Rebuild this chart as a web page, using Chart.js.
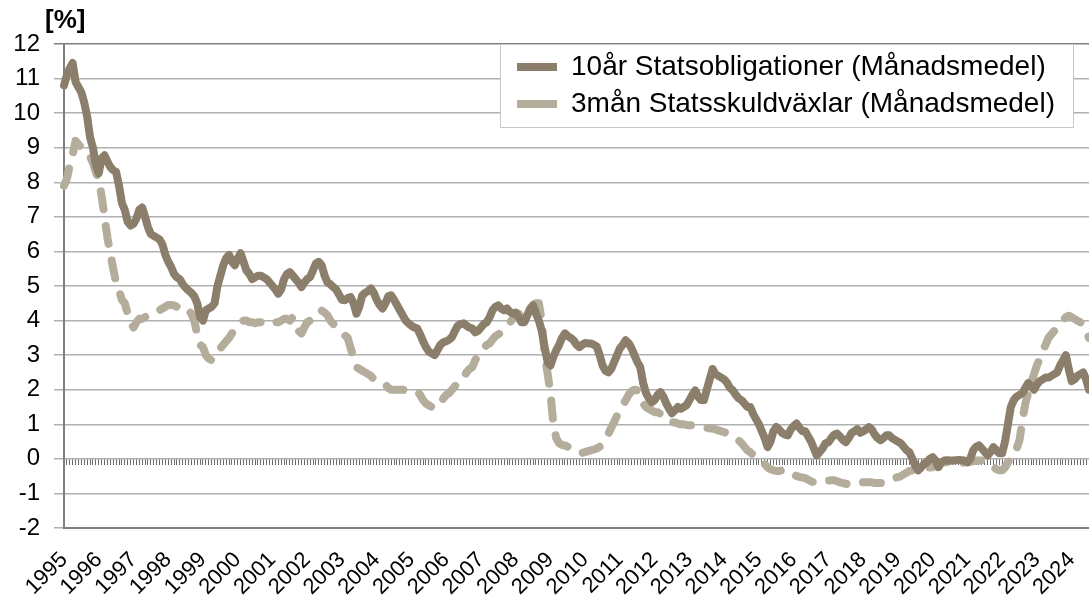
<!DOCTYPE html>
<html>
<head>
<meta charset="utf-8">
<script src="https://cdn.jsdelivr.net/npm/chart.js@4.4.1/dist/chart.umd.min.js"></script>
<style>
  html, body { margin: 0; padding: 0; background: #fff; overflow: hidden; }
  #wrap { position: relative; width: 1089px; height: 598px; }
</style>
</head>
<body>
<div id="wrap"><canvas id="rates"></canvas></div>
<script>
// Category axis: one year label per January, monthly points
const years = ['1995','1996','1997','1998','1999','2000','2001','2002','2003','2004',
               '2005','2006','2007','2008','2009','2010','2011','2012','2013','2014',
               '2015','2016','2017','2018','2019','2020','2021','2022','2023','2024'];
const seriesNames = ['10år Statsobligationer (Månadsmedel)', '3mån Statsskuldväxlar (Månadsmedel)'];
const yMin = -2, yMax = 12, yStep = 1;

// 10-year government bonds, monthly average (Jan 1995 - Jul 2024)
const bond10y = [
  10.8, 11.1, 11.3, 11.45, 10.9, 10.75, 10.6, 10.3, 9.9, 9.3, 9.0, 8.5,
  8.26, 8.7, 8.78, 8.6, 8.44, 8.35, 8.3, 7.9, 7.4, 7.2, 6.85, 6.75,
  6.8, 6.95, 7.2, 7.27, 7.0, 6.7, 6.5, 6.45, 6.4, 6.35, 6.2, 5.9,
  5.7, 5.55, 5.35, 5.25, 5.2, 5.05, 4.95, 4.87, 4.8, 4.7, 4.5, 4.1,
  4.0, 4.3, 4.35, 4.4, 4.5, 5.0, 5.3, 5.6, 5.8, 5.9, 5.7, 5.6,
  5.8, 5.95, 5.7, 5.45, 5.35, 5.2, 5.25, 5.3, 5.3, 5.25, 5.2, 5.1,
  5.0, 4.9, 4.78, 4.9, 5.2, 5.35, 5.4, 5.3, 5.2, 5.1, 4.97, 5.1,
  5.2, 5.26, 5.45, 5.65, 5.7, 5.6, 5.3, 5.1, 5.05, 4.97, 4.9, 4.75,
  4.6, 4.59, 4.65, 4.68, 4.5, 4.2, 4.4, 4.73, 4.8, 4.85, 4.93, 4.8,
  4.6, 4.45, 4.35, 4.5, 4.7, 4.73, 4.6, 4.45, 4.3, 4.15, 4.0, 3.92,
  3.85, 3.8, 3.77, 3.6, 3.4, 3.23, 3.1, 3.05, 3.0, 3.15, 3.3, 3.37,
  3.4, 3.45, 3.52, 3.7, 3.85, 3.9, 3.92, 3.85, 3.8, 3.77, 3.66, 3.7,
  3.8, 3.9, 3.95, 4.1, 4.3, 4.4, 4.44, 4.35, 4.3, 4.35, 4.25, 4.2,
  4.23, 4.1, 3.95, 3.95, 4.15, 4.35, 4.44, 4.2, 4.0, 3.7, 3.23, 2.8,
  2.7, 2.95, 3.14, 3.3, 3.5, 3.63, 3.55, 3.5, 3.43, 3.3, 3.23, 3.3,
  3.35, 3.34, 3.34, 3.3, 3.25, 3.0, 2.7, 2.55, 2.5, 2.6, 2.8, 3.0,
  3.2, 3.3, 3.43, 3.35, 3.2, 3.0, 2.8, 2.66, 2.2, 1.9, 1.75, 1.64,
  1.7, 1.85, 1.93, 1.8, 1.6, 1.45, 1.32, 1.4, 1.5, 1.45, 1.5, 1.55,
  1.7, 1.85, 1.98, 1.8, 1.7, 1.7, 2.0, 2.3, 2.6, 2.45, 2.4, 2.35,
  2.3, 2.2, 2.05, 1.98, 1.85, 1.75, 1.7, 1.6, 1.5, 1.5, 1.3, 1.15,
  1.0, 0.8, 0.6, 0.34, 0.5, 0.8, 0.92, 0.85, 0.75, 0.7, 0.68, 0.85,
  0.95, 1.02, 0.9, 0.8, 0.8, 0.65, 0.5, 0.3, 0.1, 0.2, 0.3, 0.45,
  0.48, 0.6, 0.7, 0.73, 0.65, 0.55, 0.48, 0.6, 0.75, 0.8, 0.86, 0.75,
  0.8, 0.85, 0.92, 0.85, 0.7, 0.6, 0.54, 0.6, 0.68, 0.68, 0.6, 0.55,
  0.5, 0.45, 0.35, 0.25, 0.19, 0.0, -0.2, -0.33, -0.25, -0.15, -0.1, 0.0,
  0.05, -0.05, -0.24, -0.1, -0.05, -0.04, -0.05, -0.05, -0.04, -0.03, -0.04, -0.05,
  -0.1, 0.0, 0.25, 0.35, 0.39, 0.3, 0.2, 0.1, 0.2, 0.34, 0.25, 0.16,
  0.16, 0.5, 1.0, 1.5, 1.7, 1.8, 1.85, 1.9, 2.05, 2.19, 2.1, 2.0,
  2.15, 2.25, 2.3, 2.35, 2.35, 2.4, 2.45, 2.5, 2.7, 2.85, 3.0, 2.6,
  2.25, 2.3, 2.4, 2.45, 2.5, 2.3, 2.0
];

// 3-month treasury bills, monthly average
const bill3m = [
  7.9, 8.1, 8.5, 8.8, 9.2, 9.1, 9.0, 8.95, 8.9, 8.75, 8.55, 8.3,
  8.05, 7.6, 7.0, 6.4, 5.94, 5.5, 5.1, 4.87, 4.6, 4.5, 4.2, 3.92,
  3.8, 3.95, 4.05, 4.05, 4.1, 4.15, 4.2, 4.2, 4.25, 4.3, 4.35, 4.4,
  4.45, 4.45, 4.44, 4.4, 4.35, 4.4, 4.35, 4.3, 4.2, 4.0, 3.6, 3.3,
  3.23, 3.0, 2.9, 2.85, 2.95, 3.05, 3.2, 3.3, 3.4, 3.5, 3.63, 3.75,
  3.85, 3.95, 4.0, 4.0, 3.95, 3.95, 3.92, 3.95, 3.95, 4.0, 4.0, 4.0,
  4.0, 3.95, 3.95, 4.0, 4.05, 4.05, 4.0, 4.1, 3.9, 3.7, 3.63, 3.8,
  3.95, 4.0, 4.1, 4.2, 4.28, 4.29, 4.23, 4.15, 4.0, 3.9, 3.86, 3.75,
  3.65, 3.57, 3.5, 3.2, 2.94, 2.65, 2.6, 2.55, 2.5, 2.45, 2.4, 2.3,
  2.25, 2.2, 2.19, 2.15, 2.05, 2.0, 2.0, 2.0, 2.0, 2.0, 1.98, 1.98,
  1.98, 1.97, 1.95, 1.85, 1.7, 1.6, 1.55, 1.5, 1.46, 1.5, 1.6, 1.75,
  1.85, 1.9, 2.0, 2.1, 2.2, 2.22, 2.35, 2.5, 2.6, 2.65, 2.85, 3.0,
  3.08, 3.2, 3.3, 3.34, 3.45, 3.55, 3.6, 3.66, 3.75, 3.85, 3.95, 4.05,
  4.15, 4.2, 4.1, 4.05, 4.2, 4.35, 4.45, 4.5, 4.5, 4.0, 3.0, 2.48,
  1.9, 1.02, 0.6, 0.45, 0.4, 0.39, 0.35, 0.3, 0.25, 0.2, 0.16, 0.17,
  0.2, 0.22, 0.25, 0.27, 0.3, 0.35, 0.45, 0.6, 0.72, 0.9, 1.06, 1.25,
  1.45, 1.55, 1.7, 1.85, 1.95, 2.0, 1.98, 1.85, 1.6, 1.5, 1.45, 1.4,
  1.35, 1.35, 1.3, 1.2, 1.12, 1.08, 1.06, 1.05, 1.02, 1.0, 1.0, 0.98,
  0.97, 0.97, 0.95, 0.95, 0.92, 0.9, 0.9, 0.88, 0.88, 0.85, 0.82, 0.8,
  0.77, 0.75, 0.7, 0.65, 0.6, 0.54, 0.45, 0.35, 0.25, 0.19, 0.12, 0.06,
  0.02, -0.05, -0.15, -0.25, -0.3, -0.33, -0.35, -0.35, -0.33, -0.33, -0.33, -0.38,
  -0.45, -0.5, -0.52, -0.54, -0.56, -0.6, -0.65, -0.68, -0.71, -0.7, -0.68, -0.65,
  -0.63, -0.62, -0.62, -0.65, -0.68, -0.7, -0.72, -0.74, -0.76, -0.72, -0.7, -0.68,
  -0.68, -0.68, -0.68, -0.68, -0.7, -0.7, -0.7, -0.69, -0.68, -0.65, -0.6, -0.55,
  -0.53, -0.5, -0.45, -0.4, -0.35, -0.33, -0.3, -0.28, -0.27, -0.27, -0.26, -0.25,
  -0.24, -0.2, -0.15, -0.12, -0.1, -0.1, -0.12, -0.13, -0.13, -0.12, -0.12, -0.1,
  -0.1, -0.08, -0.07, -0.05, -0.05, -0.05, -0.05, -0.1, -0.15, -0.24, -0.3, -0.33,
  -0.33, -0.25, -0.1, 0.0, 0.1, 0.3, 0.54, 1.1, 1.6, 1.9, 2.2, 2.45,
  2.7, 2.9, 3.1, 3.3, 3.5, 3.6, 3.7, 3.8, 3.9, 4.0, 4.1, 4.14,
  4.1, 4.05, 4.0, 3.95, 3.9, 3.7, 3.5
];

// month labels "YYYY-MM", only Januaries get a visible tick label
const monthLabels = [];
years.forEach(y => {
    for (let m = 1; m <= 12; m++) monthLabels.push(`${y}-${String(m).padStart(2, '0')}`);
});
const labels = monthLabels.slice(0, bond10y.length);

Chart.defaults.font.family = "'Liberation Sans', Arial, sans-serif";
Chart.defaults.color = '#000';

// legend sits inside the plot, framed like the original
const legendFrame = {
    id: 'legendFrame',
    afterLayout(chart) {
        const lg = chart.legend;
        lg.left = 508;
        lg.top = 44;
        lg.bottom = 200;
    },
    afterDatasetsDraw(chart) {
        const ctx = chart.ctx;
        ctx.save();
        ctx.fillStyle = '#fff';
        ctx.strokeStyle = '#c8c8c8';
        ctx.lineWidth = 1;
        ctx.fillRect(500, 44, 573, 83);
        ctx.strokeRect(500.5, 44.5, 573, 83);
        ctx.restore();
        chart.legend.draw();
    },
    afterDraw(chart) {
        const ctx = chart.ctx;
        ctx.save();
        ctx.font = "bold 26px 'Liberation Sans', Arial, sans-serif";
        ctx.fillStyle = '#000';
        ctx.textBaseline = 'middle';
        ctx.fillText('[%]', 45, 21);
        ctx.restore();
    }
};

const chart = new Chart(document.getElementById('rates'), {
    type: 'line',
    data: {
        labels: labels,
        datasets: [
            { label: seriesNames[0], data: bond10y, borderColor: '#8b7f6b', backgroundColor: '#8b7f6b',
              borderWidth: 8, pointRadius: 0, borderCapStyle: 'round', borderJoinStyle: 'round', tension: 0 },
            { label: seriesNames[1], data: bill3m, borderColor: '#b5ad9c', backgroundColor: '#b5ad9c',
              borderWidth: 8, pointRadius: 0, borderDash: [18, 17], borderCapStyle: 'round', borderJoinStyle: 'round', tension: 0 }
        ]
    },
    options: {
        responsive: true,
        maintainAspectRatio: false,
        animation: false,
        layout: { padding: { top: 44, left: 0, right: 0, bottom: 0 } },
        plugins: {
            tooltip: { enabled: false },
            legend: {
                position: 'chartArea',
                align: 'start',
                labels: {
                    usePointStyle: true, pointStyle: 'line', pointStyleWidth: 40, boxHeight: 8,
                    padding: 9, color: '#000', font: { size: 28 }
                }
            }
        },
        scales: {
            x: {
                type: 'category',
                grid: { display: false, drawTicks: false },
                border: { display: true, color: '#808080', width: 2 },
                ticks: {
                    autoSkip: false, minRotation: 45, maxRotation: 45, padding: 19,
                    font: { size: 22 }, color: '#000',
                    callback: function (val) {
                        const l = this.getLabelForValue(val);
                        return l.endsWith('-01') ? l.slice(0, 4) : '';
                    }
                },
                afterFit(scale) {
                    scale.height = 70;
                    scale.paddingRight = 0;
                    scale.paddingLeft = 0;
                }
            },
            x2: {
                type: 'category',
                axis: 'x',
                position: { y: 0 },
                grid: { drawOnChartArea: false, drawTicks: true, tickLength: 6, color: '#6e6e6e', lineWidth: 1 },
                border: { display: false },
                ticks: { display: false, autoSkip: false }
            },
            y: {
                min: yMin, max: yMax,
                ticks: { stepSize: yStep, padding: 14, font: { size: 24 }, color: '#000' },
                grid: {
                    color: ctx => (ctx.tick && ctx.tick.value === yMax) ? '#7f7f7f' : '#b0b0b0',
                    lineWidth: 1.5, tickLength: 10
                },
                border: { display: true, color: '#808080', width: 2 },
                afterFit(scale) { scale.width = 64; }
            }
        }
    },
    plugins: [legendFrame]
});
</script>
</body>
</html>
